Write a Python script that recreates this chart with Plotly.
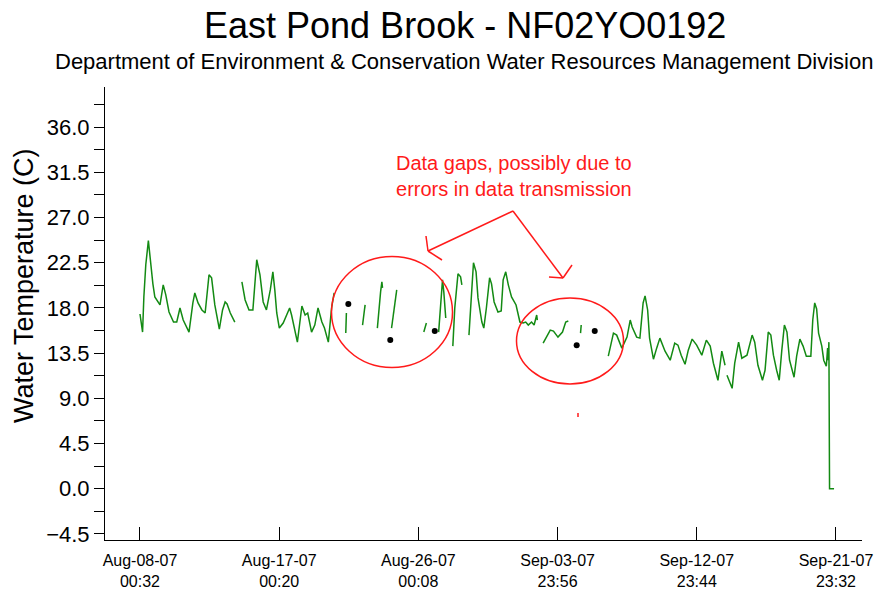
import datetime as dt
import plotly.graph_objects as go

# Logger deployment start; all readings are stored as hours elapsed since it.
READING_START = dt.datetime(2007, 8, 8, 0, 32)

# Hourly water temperature (C).  None marks a break where readings were not received.
HOURS = [
    0, 4, 6, 9, 13, 17, 20, 23, 31, 36, 40, 45, 52, 57, 62, 67, 76, 82, 85, 90,
    96, 101, 107, 111, 116, 123, 128, 132, 135, 140, 147, None,
    158, 163, 169, 175, 181, 186, 191, 196, 202, 206, 209, 212, 216, 222, 232,
    235, 244, 251, 256, 260, 266, 271, 276, 282, 286, 292, 297, 301, None,
    319, 320, None,
    345, 347, 349, None,
    368, 370, 373, 375, 376, None,
    390, 393, 396, 398, None,
    440, 444, None,
    463, 466, 469, 471, 474, None,
    485, 488, 493, 497, 499, None,
    510, 514, 517, 521, 524, 530, 533, 537, 542, 545, 549, 555, 560, 563, 567,
    571, 576, 583, 589, 594, 598, 602, 607, 611, 615, 616, None,
    625, 630, 636, 641, 648, 655, 660, 664, None,
    683, 684, None,
    726, 734, 739, 747, 755, 760, 763, 770, 775, 780, 783, 787, 790, 796, 801,
    806, 814, 822, 829, 834, 839, 845, 850, 856, 863, 871, 878, 884, 889, 896,
    902, 907, None,
    910, 918, 922, 928, 933, 941, 949, 953, 958, 965, 969, 974, 978, 982, 987,
    991, 995, 999, 1003, 1007, 1014, 1018, 1023, 1028, 1033, 1040, 1043, 1046,
    1049, 1052, 1057, 1060, 1064, 1066, 1067, 1068, 1069, 1076,
]
TEMPS = [
    17.4, 15.6, 19.1, 22.3, 24.7, 22.1, 20.4, 19.1, 18.3, 20.3, 19.3, 17.6, 16.6,
    16.6, 18.0, 16.8, 15.6, 18.5, 19.5, 18.5, 17.8, 17.5, 21.3, 21.0, 18.3, 15.9,
    17.8, 18.6, 18.4, 17.5, 16.6, None,
    20.6, 18.8, 17.8, 17.8, 22.8, 21.3, 18.6, 17.8, 19.8, 21.6, 19.8, 17.5, 16.0,
    16.5, 18.0, 17.3, 14.6, 18.2, 17.3, 17.5, 15.6, 16.3, 18.0, 16.6, 16.0, 14.6,
    18.0, 19.5, None,
    15.5, 17.5, None,
    16.3, 17.4, 18.3, None,
    16.0, 17.8, 19.6, 20.6, 20.0, None,
    16.0, 17.5, 18.8, 19.8, None,
    15.6, 16.5, None,
    15.6, 18.0, 20.8, 19.6, 17.0, None,
    14.2, 18.0, 21.4, 21.1, 20.3, None,
    15.3, 19.6, 22.5, 21.6, 19.0, 16.6, 16.0, 18.0, 21.0, 20.4, 18.6, 17.6, 17.7,
    20.8, 21.6, 20.3, 19.1, 18.3, 16.6, 16.5, 16.6, 16.3, 16.6, 16.3, 17.3, 16.8,
    None,
    14.5, 15.1, 15.8, 15.7, 15.1, 15.6, 16.6, 16.7, None,
    15.5, 16.3, None,
    13.2, 15.5, 15.3, 14.0, 15.1, 16.8, 16.1, 15.1, 15.0, 18.5, 19.2, 17.8, 15.0,
    12.9, 14.0, 15.0, 13.7, 12.8, 14.5, 14.3, 13.3, 12.4, 13.8, 14.9, 14.3, 13.3,
    14.8, 14.2, 12.5, 10.8, 13.7, 12.3, None,
    11.3, 10.0, 12.5, 14.6, 13.0, 13.3, 15.3, 14.6, 12.3, 10.8, 11.8, 15.6, 15.3,
    13.3, 11.8, 10.8, 13.8, 16.3, 15.6, 12.8, 11.1, 13.2, 14.9, 14.2, 13.2, 13.2,
    16.8, 18.5, 17.9, 15.5, 14.2, 12.8, 12.2, 14.0, 12.8, 14.6, 0.0, 0.0,
]

# Single readings that arrived with no neighbours on either side
ISOLATED_HOURS = [323, 388, 457, 677, 705]
ISOLATED_TEMPS = [18.4, 14.8, 15.7, 14.3, 15.7]

X_TICK_TIMES = [
    "2007-08-08 00:32", "2007-08-17 00:20", "2007-08-26 00:08",
    "2007-09-03 23:56", "2007-09-12 23:44", "2007-09-21 23:32",
]

TITLE = "East Pond Brook - NF02YO0192"
SUBTITLE = "Department of Environment & Conservation Water Resources Management Division"
Y_TITLE = "Water Temperature (C)"
NOTE = "Data gaps, possibly due to<br>errors in data transmission"

assert len(HOURS) == len(TEMPS)


def at(h):
    return None if h is None else READING_START + dt.timedelta(hours=h)


times = [at(h) for h in HOURS]
iso_times = [at(h) for h in ISOLATED_HOURS]
tick_times = [dt.datetime.strptime(s, "%Y-%m-%d %H:%M") for s in X_TICK_TIMES]
tick_text = [t.strftime("%b-%d-%y<br>%H:%M") for t in tick_times]

FONT = "Liberation Sans, Arial, sans-serif"
RED = "#ff1a1a"
W, H = 878, 590
L, R, T, B = 105, 16, 87, 50
PW, PH = W - L - R, H - T - B


def px(x, y):
    """Pixel position on the page -> paper coordinates of the plot area."""
    return (x - L) / PW, (H - B - y) / PH


fig = go.Figure()
fig.add_trace(go.Scatter(
    x=times, y=TEMPS, mode="lines", connectgaps=False,
    line=dict(color="#138a13", width=1.5), hoverinfo="x+y", showlegend=False,
))
fig.add_trace(go.Scatter(
    x=iso_times, y=ISOLATED_TEMPS, mode="markers",
    marker=dict(color="black", size=6), showlegend=False,
))

shapes = []


def ellipse(cx, cy, rx, ry):
    x0, y0 = px(cx - rx, cy + ry)
    x1, y1 = px(cx + rx, cy - ry)
    shapes.append(dict(type="circle", xref="paper", yref="paper",
                       x0=x0, y0=y0, x1=x1, y1=y1,
                       line=dict(color=RED, width=1.5)))


def seg(a, b):
    x0, y0 = px(*a)
    x1, y1 = px(*b)
    shapes.append(dict(type="line", xref="paper", yref="paper",
                       x0=x0, y0=y0, x1=x1, y1=y1,
                       line=dict(color=RED, width=1.5)))


ellipse(392, 312, 60.5, 55.5)
ellipse(570, 341, 53.5, 43)
apex = (513, 211)
left_tip = (428, 251)
right_tip = (563, 278)
seg(apex, left_tip)
seg(left_tip, (426, 236))
seg(left_tip, (442, 260))
seg(apex, right_tip)
seg(right_tip, (572, 265))
seg(right_tip, (549, 277))
seg((578, 413), (578, 417))

annotations = []


def label(text, x, y, size, color="black", angle=0):
    ax, ay = px(x, y)
    annotations.append(dict(text=text, xref="paper", yref="paper", x=ax, y=ay,
                            xanchor="center", yanchor="middle", showarrow=False,
                            textangle=angle,
                            font=dict(family=FONT, size=size, color=color)))


label(TITLE, 465, 26, 36)
label(SUBTITLE, 464, 62, 22)
label(Y_TITLE, 24, 286, 27, angle=-90)
label(NOTE, 514, 176, 20, color=RED)

x_left = READING_START - dt.timedelta(days=2.26)
x_right = tick_times[-1] + dt.timedelta(days=1.68)

fig.update_layout(
    width=W, height=H,
    margin=dict(l=L, r=R, t=T, b=B, pad=0, autoexpand=False),
    paper_bgcolor="white", plot_bgcolor="white",
    font=dict(family=FONT, color="black"),
    shapes=shapes, annotations=annotations,
    xaxis=dict(
        range=[x_left, x_right], type="date", automargin=False,
        tickvals=tick_times, ticktext=tick_text,
        ticks="inside", ticklen=13, tickcolor="black", tickwidth=1,
        showline=True, linecolor="black", linewidth=1,
        showgrid=False, zeroline=False,
        tickfont=dict(size=16), ticklabelstandoff=6,
    ),
    yaxis=dict(
        range=[-5.1, 40.0], tick0=-4.5, dtick=4.5, tickformat=".1f",
        automargin=False,
        ticks="outside", ticklen=10, tickcolor="black", tickwidth=1,
        minor=dict(dtick=2.25, tick0=-4.5, ticks="outside", ticklen=10,
                   tickcolor="black", tickwidth=1),
        showline=True, linecolor="black", linewidth=1,
        showgrid=False, zeroline=False,
        tickfont=dict(size=22),
    ),
)

fig.write_html("out.html")
